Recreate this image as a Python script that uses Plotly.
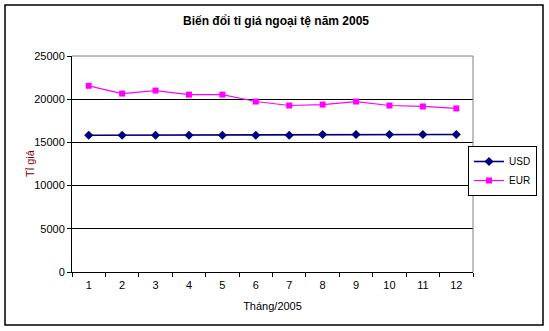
import plotly.graph_objects as go

months = ["1", "2", "3", "4", "5", "6", "7", "8", "9", "10", "11", "12"]
usd = [15830, 15830, 15830, 15830, 15830, 15830, 15830, 15910, 15910, 15910, 15910, 15910]
eur = [21550, 20650, 21000, 20530, 20530, 19730, 19270, 19380, 19730, 19270, 19160, 18930]
y_ticks = [0, 5000, 10000, 15000, 20000, 25000]

W, H = 549, 331
L, R, T, B = 72, 473, 56, 272
pw, ph = R - L, B - T

def px(x):
    return (x - L) / pw

def py(y):
    return (B - y) / ph

FONT = "Liberation Sans, Arial, sans-serif"

fig = go.Figure()
fig.add_trace(go.Scatter(
    x=months, y=usd, name="USD", mode="lines+markers",
    line=dict(color="#000080", width=1.6),
    marker=dict(symbol="diamond", size=7, color="#000080"),
))
fig.add_trace(go.Scatter(
    x=months, y=eur, name="EUR", mode="lines+markers",
    line=dict(color="#FF00FF", width=1.2),
    marker=dict(symbol="square", size=6, color="#FF00FF"),
))

fig.update_layout(
    width=W, height=H,
    margin=dict(l=L, r=W - R, t=T, b=H - B, autoexpand=False),
    paper_bgcolor="white", plot_bgcolor="white",
    font=dict(family=FONT, size=11, color="black"),
    title=dict(text="<b>Biến đổi tỉ giá ngoại tệ năm 2005</b>", x=px(276), xref="paper",
               xanchor="center", y=1 - 21 / H, yanchor="middle",
               font=dict(family=FONT, size=12, color="black")),
    showlegend=True,
    legend=dict(x=px(537), y=py(146), xanchor="right", yanchor="top",
                bordercolor="black", borderwidth=1, bgcolor="white",
                font=dict(family=FONT, size=10, color="black"),
                itemwidth=30, tracegroupgap=0),
)

fig.update_xaxes(
    type="category", range=[-0.5, 11.5], tickson="boundaries",
    ticks="outside", ticklen=4, tickcolor="black",
    showline=True, linecolor="black", linewidth=1,
    showgrid=False, zeroline=False, ticklabelstandoff=3,
    tickfont=dict(family=FONT, size=11, color="black"),
    title=dict(text="Tháng/2005", font=dict(family=FONT, size=11, color="black"), standoff=12),
)
fig.update_yaxes(
    range=[0, 25000], tickvals=y_ticks, tickformat="d", ticks="outside", ticklen=4, tickcolor="black",
    showline=True, linecolor="black", linewidth=1,
    showgrid=True, gridcolor="black", gridwidth=1, zeroline=False,
    tickfont=dict(family=FONT, size=11, color="black"),
)

fig.add_annotation(text="Tỉ giá", xref="paper", yref="paper", x=px(30), y=py(163),
                   xanchor="center", yanchor="middle", textangle=-90, showarrow=False,
                   font=dict(family=FONT, size=11, color="#800000"))

# plot area gray top/right border
fig.add_shape(type="line", xref="paper", yref="paper", x0=0, x1=1, y0=1, y1=1,
              line=dict(color="#808080", width=1))
fig.add_shape(type="line", xref="paper", yref="paper", x0=1, x1=1, y0=0, y1=1,
              line=dict(color="#808080", width=1))
# outer chart border
fig.add_shape(type="rect", xref="paper", yref="paper",
              x0=px(5), x1=px(543), y0=py(325), y1=py(5),
              line=dict(color="black", width=1.5), fillcolor="rgba(0,0,0,0)")

fig.write_html("out.html")
